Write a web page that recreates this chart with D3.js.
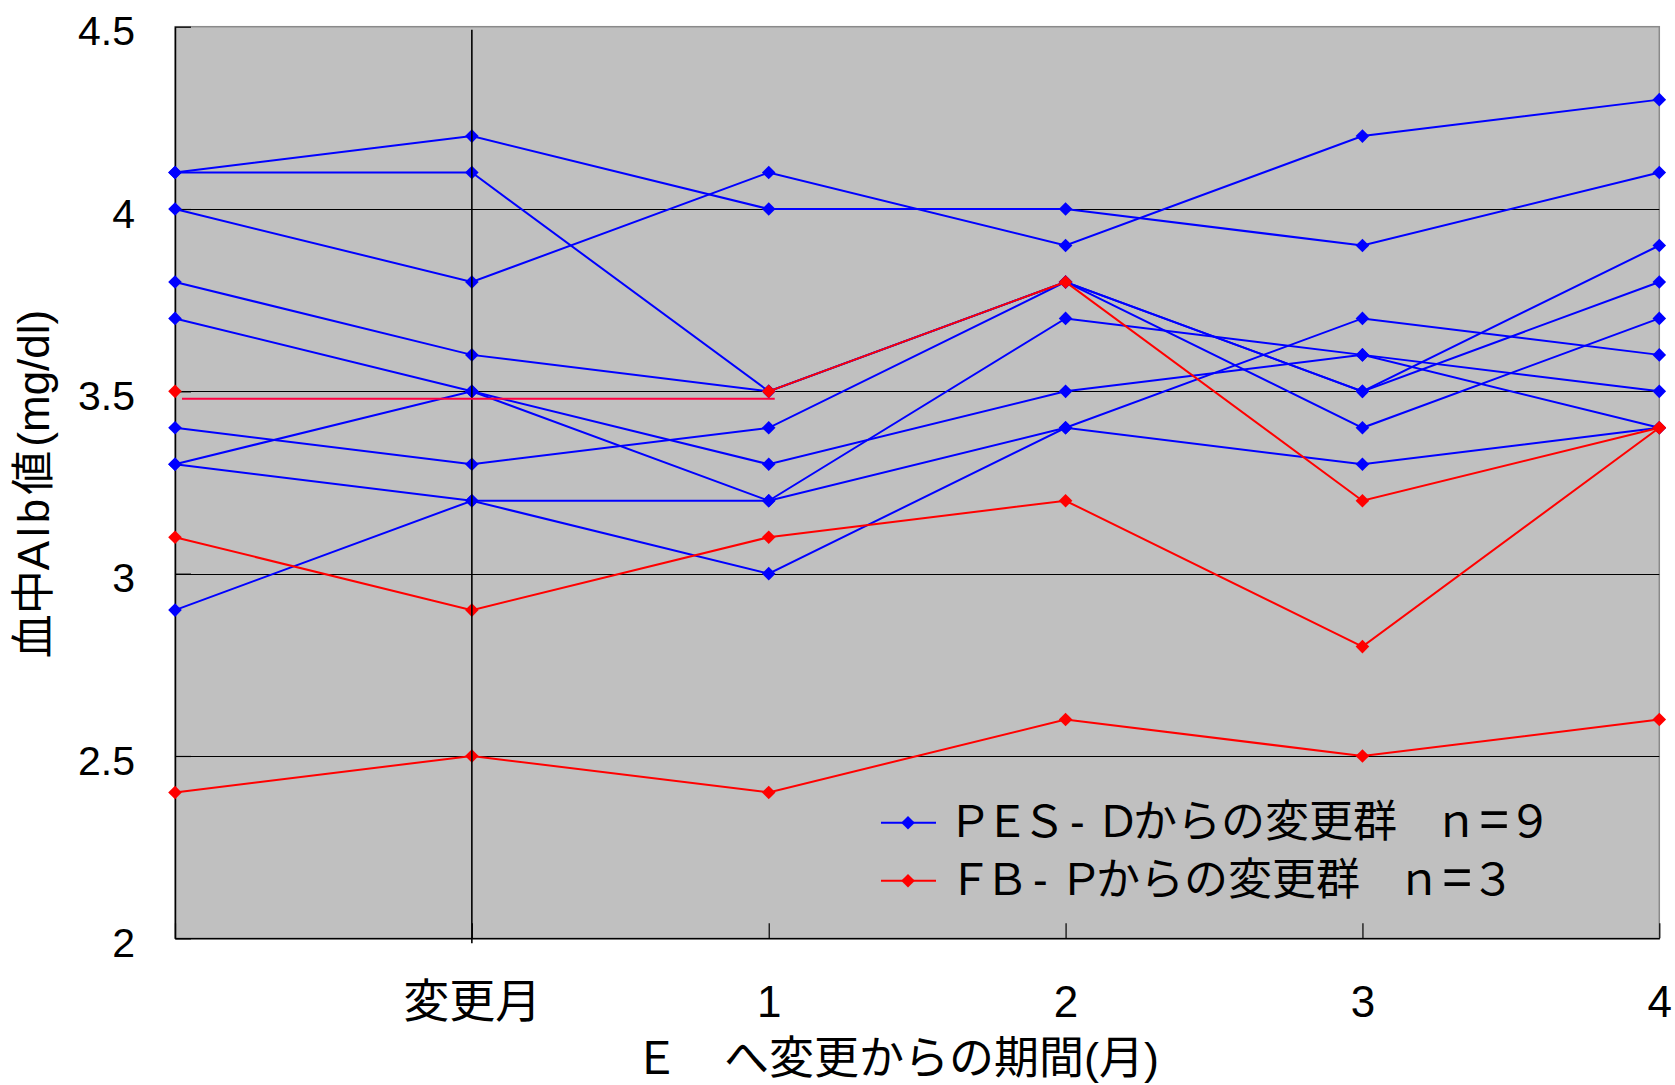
<!DOCTYPE html>
<html lang="ja">
<head>
<meta charset="utf-8">
<title>血中Alb値の推移</title>
<script src="https://cdn.jsdelivr.net/npm/d3@7"></script>
<style>
  html, body { margin: 0; padding: 0; background: #fff; }
  svg { display: block; }
</style>
</head>
<body>
<svg id="chart" width="1675" height="1085"></svg>
<script>
// Time points: baseline (unlabelled), month of change, then months 1–4
const categories = ["", "変更月", "1", "2", "3", "4"];

// Serum Alb (mg/dl) per patient, group changed from PES-D (n=9)
const pesSeries = [
  [4.1, 4.2, 4.0, 4.0, 3.9, 4.1],
  [4.1, 4.1, 3.5, 3.8, 3.5, 3.9],
  [4.0, 3.8, 4.1, 3.9, 4.2, 4.3],
  [3.8, 3.6, 3.5, 3.8, 3.5, 3.8],
  [3.7, 3.5, 3.3, 3.5, 3.6, 3.4],
  [3.4, 3.3, 3.4, 3.8, 3.4, 3.7],
  [3.3, 3.5, 3.2, 3.7, 3.6, 3.5],
  [3.3, 3.2, 3.2, 3.4, 3.7, 3.6],
  [2.9, 3.2, 3.0, 3.4, 3.3, 3.4]
];

// Group changed from FB-P (n=3); first patient has no value at 変更月
const fbSeries = [
  [3.5, null, 3.5, 3.8, 3.2, 3.4],
  [3.1, 2.9, 3.1, 3.2, 2.8, 3.4],
  [2.4, 2.5, 2.4, 2.6, 2.5, 2.6]
];

// Hand-drawn bridge over the missing 変更月 value of the first FB-P patient
const bridgeLevel = 3.48;

const yTicks = [2, 2.5, 3, 3.5, 4, 4.5];
const gridValues = [2.5, 3, 3.5, 4];

// legend text pieces: [text, letter-spacing, dx, font-size override]
const legendItems = [
  { parts: [["ＰＥＳ", -7, 0], ["-", 11.3, 11, 44], ["Ｄ", -7, 0], ["からの変更群", 0, 0],
            ["　ｎ", -7, 0], ["=", -1.4, 8, 52], ["９", -7, 0]], color: "#0000ff" },
  { parts: [["ＦＢ", -7, 0], ["-", 11.3, 11, 44], ["Ｐ", -7, 0], ["からの変更群", 0, 0],
            ["　ｎ", -7, 0], ["=", -1.4, 8, 52], ["３", -7, 0]], color: "#ff0000" }
];

const svg = d3.select("#chart");
const plotL = 175, plotR = 1659.3, plotT = 26.7, plotB = 938.3;

const x = d3.scalePoint().domain(d3.range(categories.length)).range([plotL, plotR]).padding(0);
const y = d3.scaleLinear().domain([2, 4.5]).range([plotB, plotT]);

const latin = "'Liberation Sans', Arial, 'Noto Sans CJK JP', sans-serif";
const cjk = "'Noto Sans CJK JP', 'Noto Sans CJK SC', sans-serif";

// plot area
svg.append("rect")
  .attr("x", plotL).attr("y", plotT)
  .attr("width", plotR - plotL).attr("height", plotB - plotT)
  .attr("fill", "#c0c0c0")
  .attr("stroke", "#8a8a8a").attr("stroke-width", 1.5);

// horizontal gridlines
svg.append("g").selectAll("line").data(gridValues).join("line")
  .attr("x1", plotL).attr("x2", plotR)
  .attr("y1", d => Math.round(y(d)) + 0.5).attr("y2", d => Math.round(y(d)) + 0.5)
  .attr("stroke", "#000").attr("stroke-width", 1);

// axes
const yAxis = d3.axisLeft(y).tickValues(yTicks).tickFormat(d3.format("")).tickSizeInner(-16).tickSizeOuter(0).tickPadding(40);
const gy = svg.append("g").attr("transform", `translate(${plotL},0)`).call(yAxis);
gy.select(".domain").attr("stroke", "#000").attr("stroke-width", 1.5);
gy.selectAll(".tick line").attr("stroke", "#000").attr("stroke-width", 1.2);
gy.selectAll(".tick text")
  .attr("font-family", latin).attr("font-size", 41).attr("fill", "#000")
  .attr("dy", "0.44em");

const xAxis = d3.axisBottom(x).tickFormat(i => categories[i]).tickSizeInner(-15).tickSizeOuter(0).tickPadding(48);
const gx = svg.append("g").attr("transform", `translate(0,${plotB})`).call(xAxis);
gx.select(".domain").attr("stroke", "#000").attr("stroke-width", 1.5);
gx.selectAll(".tick line").attr("stroke", "#000").attr("stroke-width", 1.2);
gx.selectAll(".tick text")
  .attr("font-family", latin)
  .attr("font-size", i => /^\d+$/.test(categories[i]) ? 44 : 46)
  .attr("fill", "#000")
  .attr("y", 79).attr("dy", "0");

// series
const line = d3.line()
  .defined(d => d != null)
  .x((d, i) => x(i))
  .y(d => y(d));

const diamond = "M0,-6.8L6.8,0L0,6.8L-6.8,0Z";

function drawGroup(series, color) {
  series.forEach(values => {
    const g = svg.append("g");
    g.append("path")
      .attr("d", line(values))
      .attr("fill", "none")
      .attr("stroke", color)
      .attr("stroke-width", 2);
    g.selectAll("path.mark")
      .data(values.map((v, i) => ({ v, i })).filter(d => d.v != null))
      .join("path")
      .attr("class", "mark")
      .attr("d", diamond)
      .attr("transform", d => `translate(${x(d.i)},${y(d.v)})`)
      .attr("fill", color);
  });
}

drawGroup(pesSeries, "#0000ff");
drawGroup(fbSeries, "#ff0000");

// vertical marker at the month of change
svg.append("line")
  .attr("x1", x(1)).attr("x2", x(1))
  .attr("y1", plotT + 3).attr("y2", plotB + 5)
  .attr("stroke", "#000").attr("stroke-width", 1.6);

// bridge line for the missing value
svg.append("line")
  .attr("x1", x(0) + 7).attr("x2", x(2) + 6)
  .attr("y1", y(bridgeLevel)).attr("y2", y(bridgeLevel))
  .attr("stroke", "#ff0040").attr("stroke-width", 2);

// legend
const legend = svg.append("g").attr("transform", "translate(881,822.7)");
legendItems.forEach((item, k) => {
  const row = legend.append("g").attr("transform", `translate(0,${k * 58})`);
  row.append("line").attr("x1", 0).attr("x2", 55).attr("y1", 0).attr("y2", 0)
    .attr("stroke", item.color).attr("stroke-width", 2);
  row.append("path").attr("d", diamond).attr("transform", "translate(27,0)").attr("fill", item.color);
  const t = row.append("text")
    .attr("x", 67).attr("y", 14)
    .attr("font-family", cjk).attr("font-size", 44).attr("fill", "#000");
  item.parts.forEach(([s, ls, dx, size]) => {
    const sp = t.append("tspan").attr("letter-spacing", ls).attr("dx", dx).text(s);
    if (size) sp.attr("font-family", latin).attr("font-size", size);
  });
});

// axis titles
svg.append("text")
  .attr("x", 634).attr("y", 1074)
  .attr("font-family", latin).attr("font-size", 45).attr("fill", "#000")
  .text("Ｅ　へ変更からの期間(月)");

const yTitle = svg.append("text")
  .attr("transform", "translate(49,484) rotate(-90)")
  .attr("text-anchor", "middle")
  .attr("font-family", latin).attr("font-size", 44).attr("fill", "#000");
yTitle.append("tspan").text("血中");
yTitle.append("tspan").attr("letter-spacing", 4).text("Alb");
yTitle.append("tspan").text("値");
yTitle.append("tspan").attr("dx", 4).text("(mg/dl)");
</script>
</body>
</html>
